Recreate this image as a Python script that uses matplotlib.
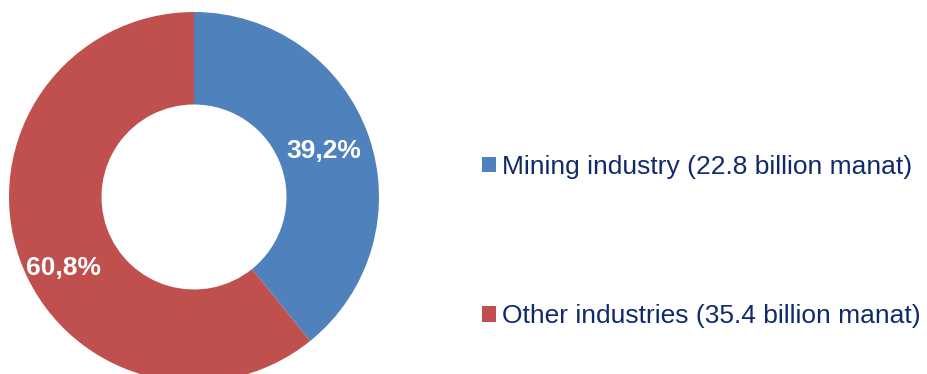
import numpy as np
import matplotlib.pyplot as plt

plt.rcParams['font.family'] = ['Liberation Sans', 'DejaVu Sans']

categories = ['Mining industry (22.8 billion manat)', 'Other industries (35.4 billion manat)']
shares = [39.2, 60.8]
pct_labels = ['39,2%', '60,8%']
colors = ['#4F81BD', '#C0504D']

fig = plt.figure(figsize=(9.27, 3.74), dpi=100)
W, H = 927, 374
# donut axes: centre ~ (194, 197) px, radius ~185 px
ax = fig.add_axes([9 / W, (H - 382) / H, 370 / W, 370 / H])
wedges, _ = ax.pie(shares, colors=colors, startangle=90, counterclock=False,
                   radius=1, wedgeprops=dict(width=0.5, edgecolor='none'))
ax.set_xlim(-1, 1)
ax.set_ylim(-1, 1)
ax.set_aspect('equal')
ax.axis('off')

# percentage labels (second one sits a bit off the wedge middle, as in the original)
label_pos = [(0.745, 0.0), (0.80, 9.1)]  # (radius, angle shift in degrees)
for w, txt, (r, shift) in zip(wedges, pct_labels, label_pos):
    ang = np.deg2rad((w.theta1 + w.theta2) / 2 + shift)
    ax.text(r * np.cos(ang), r * np.sin(ang), txt, ha='center', va='center',
            color='white', fontsize=19, fontweight='bold')

leg = fig.legend(wedges, categories, loc='center left',
                 bbox_to_anchor=(482 / W, (H - 241.5) / H), frameon=False,
                 fontsize=19, labelspacing=4.75, handlelength=0.52,
                 handleheight=0.52, handletextpad=0.25, borderpad=0,
                 borderaxespad=0)
for t in leg.get_texts():
    t.set_color('#102A6B')

fig.savefig('out.png', dpi=100)
